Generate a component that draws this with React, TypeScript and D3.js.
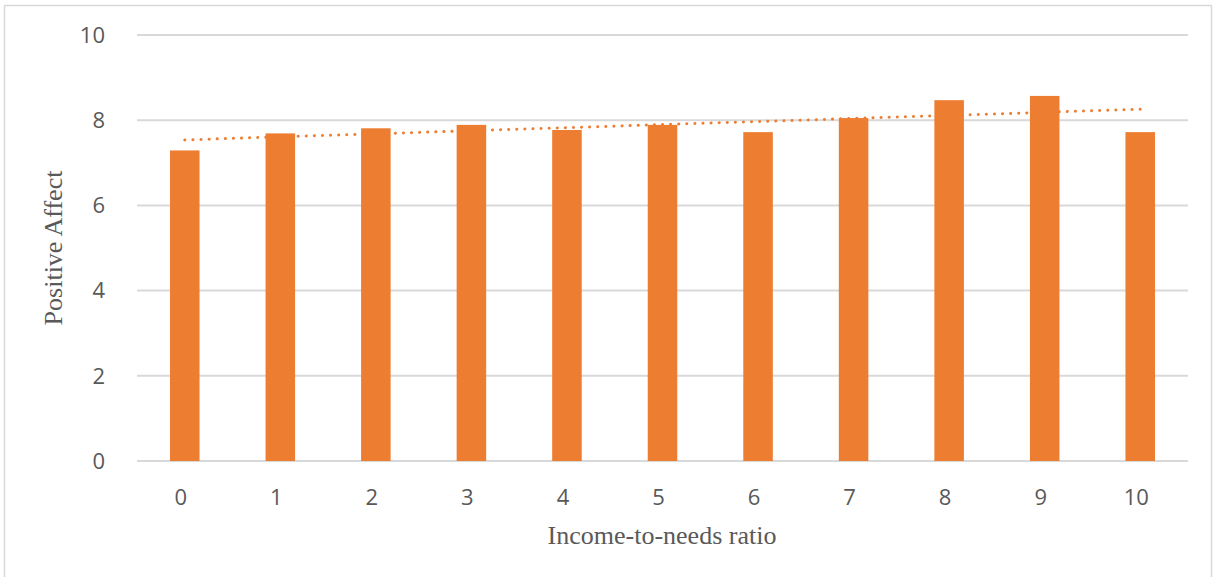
import React from "react";
import * as d3 from "d3";

// Income-to-needs ratio categories and mean positive affect per category
const categories: string[] = ["0", "1", "2", "3", "4", "5", "6", "7", "8", "9", "10"];
const positiveAffect: number[] = [7.29, 7.69, 7.81, 7.89, 7.77, 7.89, 7.72, 8.05, 8.47, 8.57, 7.72];
const yTicks: number[] = [0, 2, 4, 6, 8, 10];

const W = 1216;
const H = 577;
const plot = { left: 137, right: 1188, top: 35, bottom: 461 };

const BAR_COLOR = "#ED7D31";
const GRID_COLOR = "#D9D9D9";
const TICK_COLOR = "#595959";
const TICK_FONT = "'Open Sans', 'Noto Sans', sans-serif";
const TITLE_FONT = "'Liberation Serif', 'Times New Roman', serif";

export default function App() {
  const x = d3
    .scaleBand<string>()
    .domain(categories)
    .range([plot.left, plot.right])
    .paddingInner(0.691)
    .paddingOuter(0.3455);

  const y = d3.scaleLinear().domain([0, 10]).range([plot.bottom, plot.top]);

  // Least-squares linear trend through the category index
  const idx = positiveAffect.map((_, i) => i);
  const mx = d3.mean(idx) as number;
  const my = d3.mean(positiveAffect) as number;
  const slope =
    d3.sum(idx, (i) => (i - mx) * (positiveAffect[i] - my)) /
    d3.sum(idx, (i) => (i - mx) * (i - mx));
  const intercept = my - slope * mx;
  const centre = (i: number) => (x(categories[i]) as number) + x.bandwidth() / 2;
  const trend = d3
    .line<number>()
    .x((i) => centre(i))
    .y((i) => y(intercept + slope * i))([0, categories.length - 1]);

  return (
    <svg
      width={W}
      height={H}
      style={{ position: "absolute", left: 0, top: 0, background: "#fff" }}
    >
      <rect x={4.5} y={5.5} width={1207} height={580} fill="#fff" stroke={GRID_COLOR} strokeWidth={1.5} />

      {/* horizontal gridlines */}
      {yTicks.map((t) => (
        <line
          key={t}
          x1={plot.left}
          x2={plot.right}
          y1={y(t)}
          y2={y(t)}
          stroke={GRID_COLOR}
          strokeWidth={2}
        />
      ))}

      {/* bars */}
      {positiveAffect.map((v, i) => (
        <rect
          key={categories[i]}
          x={x(categories[i])}
          y={y(v)}
          width={x.bandwidth()}
          height={y(0) - y(v)}
          fill={BAR_COLOR}
        />
      ))}

      {/* linear trendline, round-dotted */}
      <path
        d={trend as string}
        fill="none"
        stroke={BAR_COLOR}
        strokeWidth={3}
        strokeLinecap="round"
        strokeDasharray="0.1 8"
      />

      {/* y tick labels */}
      {yTicks.map((t) => (
        <text
          key={t}
          x={105}
          y={y(t)}
          dy="0.35em"
          textAnchor="end"
          fontFamily={TICK_FONT}
          fontSize={22}
          fill={TICK_COLOR}
        >
          {t}
        </text>
      ))}

      {/* x tick labels */}
      {categories.map((c) => (
        <text
          key={c}
          x={(x(c) as number) + x.bandwidth() / 2 - 4}
          y={497}
          dy="0.35em"
          textAnchor="middle"
          fontFamily={TICK_FONT}
          fontSize={22}
          fill={TICK_COLOR}
        >
          {c}
        </text>
      ))}

      {/* axis titles */}
      <text
        x={662}
        y={535}
        dy="0.35em"
        textAnchor="middle"
        fontFamily={TITLE_FONT}
        fontSize={26}
        fill={TICK_COLOR}
      >
        Income-to-needs ratio
      </text>
      <text
        transform={`translate(53,248) rotate(-90)`}
        dy="0.35em"
        textAnchor="middle"
        fontFamily={TITLE_FONT}
        fontSize={26}
        fill={TICK_COLOR}
      >
        Positive Affect
      </text>
    </svg>
  );
}
